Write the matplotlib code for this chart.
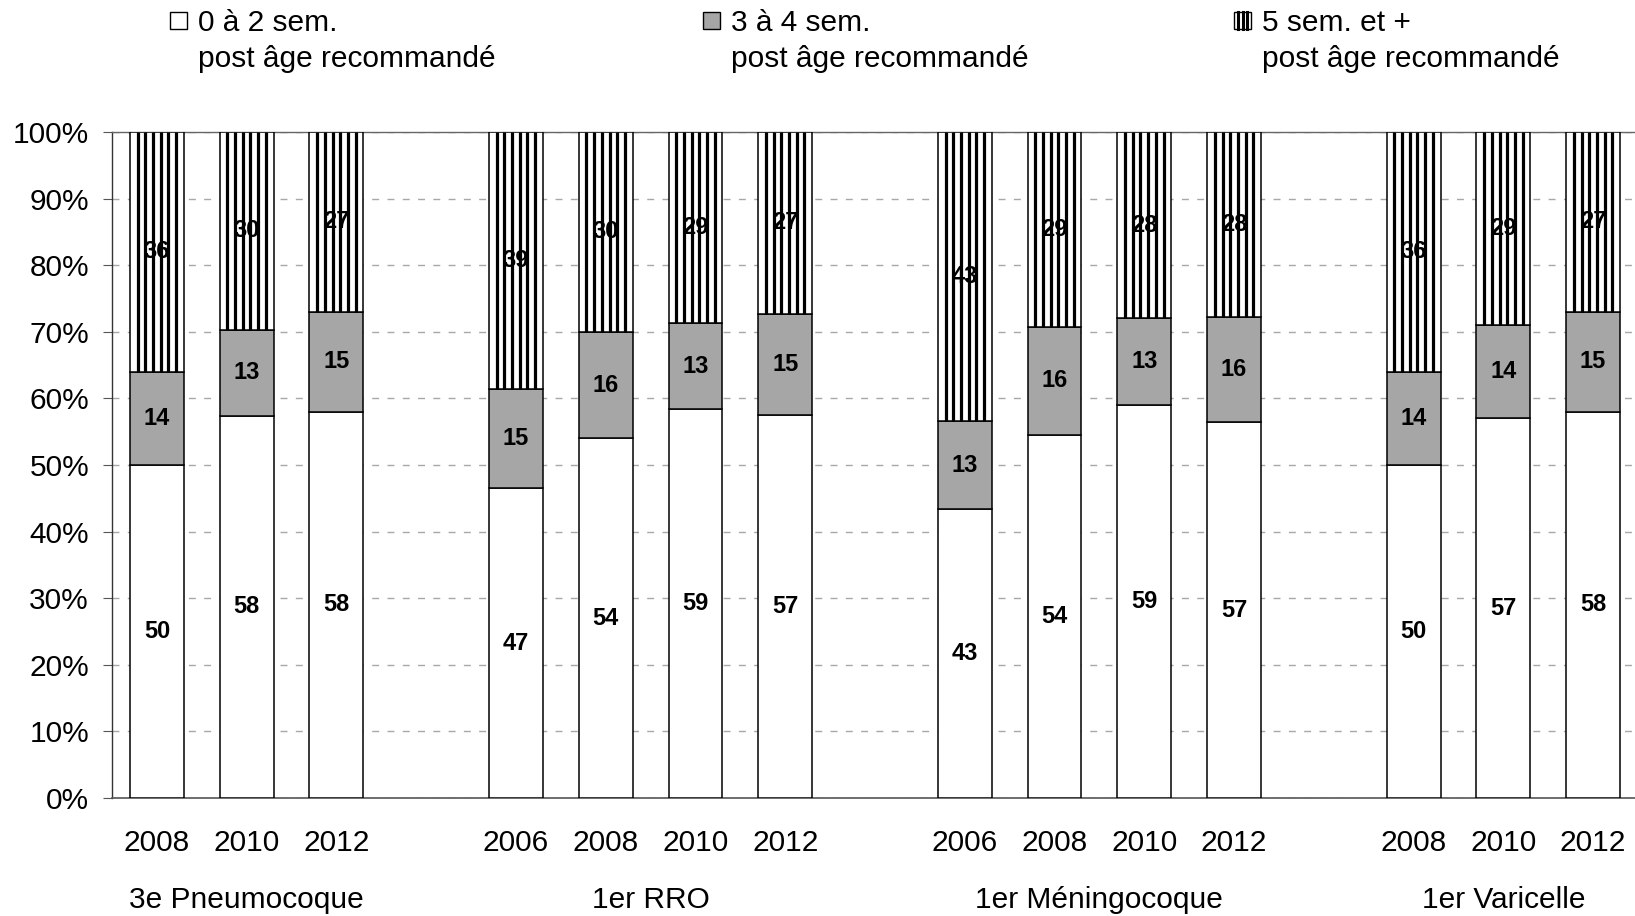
import matplotlib
matplotlib.use("Agg")
import matplotlib.pyplot as plt
import matplotlib.patches as mpatches
import matplotlib.lines as mlines
import matplotlib.transforms as mtransforms
import numpy as np

plt.rcParams['font.family'] = ['Liberation Sans', 'DejaVu Sans']

# groupes de vaccins et annees d'enquete
groups = ["3e Pneumocoque", "1er RRO", "1er Méningocoque", "1er Varicelle"]
group_years = [["2008", "2010", "2012"],
               ["2006", "2008", "2010", "2012"],
               ["2006", "2008", "2010", "2012"],
               ["2008", "2010", "2012"]]

# delai apres l'age recommande (%)
sem_0_2 = [50, 58, 58, 47, 54, 59, 57, 43, 54, 59, 57, 50, 57, 58]
sem_3_4 = [14, 13, 15, 15, 16, 13, 15, 13, 16, 13, 16, 14, 14, 15]
sem_5_plus = [36, 30, 27, 39, 30, 29, 27, 43, 29, 28, 28, 36, 29, 27]

legend_labels = ["0 à 2 sem.", "3 à 4 sem.", "5 sem. et +"]
legend_sub = "post âge recommandé"

FS = 21.5

# positions des barres : une case vide entre chaque groupe
pos = []
centers = []
x = 0
for yrs in group_years:
    start = x
    for _ in yrs:
        pos.append(x)
        x += 1
    centers.append((start + x - 1) / 2)
    x += 1
pos = np.array(pos, dtype=float)
years = [y for yrs in group_years for y in yrs]

a = np.array(sem_0_2, float)
b = np.array(sem_3_4, float)
c = np.array(sem_5_plus, float)
tot = a + b + c
pa, pb, pc = a / tot, b / tot, c / tot

fig = plt.figure(figsize=(16.35, 9.16), dpi=100)
W, H = 1635, 916
ax = fig.add_axes([112 / W, (H - 798) / H, (1638 - 112) / W, 666 / H])

w = 0.6
ax.bar(pos, pa, w, color="white", edgecolor="black", linewidth=1.1, zorder=3)
ax.bar(pos, pb, w, bottom=pa, color="#a6a6a6", edgecolor="black", linewidth=1.1, zorder=3)
ax.bar(pos, pc, w, bottom=pa + pb, color="white", edgecolor="black", linewidth=1.1, zorder=3)

# rayures verticales du segment "5 sem. et +"
n_str = 7
for i in range(len(pos)):
    xs = pos[i] + w * (np.arange(1, n_str) / n_str - 0.5)
    ax.vlines(xs, pa[i] + pb[i], 1, color="black", linewidth=2.3, zorder=3.5)

for i in range(len(pos)):
    for bot, h, v in ((0, pa[i], a[i]), (pa[i], pb[i], b[i]), (pa[i] + pb[i], pc[i], c[i])):
        ax.text(pos[i], bot + h / 2, f"{int(v)}", ha="center", va="center",
                fontsize=17, fontweight="bold", color="black", zorder=5)

ax.set_xlim(-0.5, 16.5)
ax.set_ylim(0, 1)
ticks = np.arange(0, 1.01, 0.1)
ax.set_yticks(ticks)
ax.set_yticklabels([f"{int(round(t * 100))}%" for t in ticks], fontsize=FS)
ax.tick_params(axis="y", length=6.5, width=0.8, pad=10, color="#555555")
ax.set_xticks([])

ax.yaxis.grid(True, color="#a8a8a8", linewidth=1, linestyle=(0, (5, 6)))
ax.set_axisbelow(True)

ax.spines["right"].set_visible(False)
ax.spines["top"].set_color("#666666")
ax.spines["top"].set_linewidth(1)
ax.spines["left"].set_color("#333333")
ax.spines["left"].set_linewidth(1)
ax.spines["bottom"].set_color("#555555")
ax.spines["bottom"].set_linewidth(1.2)

trans = mtransforms.blended_transform_factory(ax.transData, fig.transFigure)
for p, yr in zip(pos, years):
    ax.text(p, 1 - 851 / H, yr, transform=trans, ha="center", va="baseline",
            fontsize=FS, clip_on=False)
for cx, g in zip(centers, groups):
    ax.text(cx, 1 - 908 / H, g, transform=trans, ha="center", va="baseline",
            fontsize=FS, clip_on=False)

# legende en haut, sur une ligne
box_x = [170, 703, 1234]
fills = ["white", "#a6a6a6", "white"]
bs = 17
for k, (bx, lab, fc) in enumerate(zip(box_x, legend_labels, fills)):
    r = mpatches.Rectangle((bx / W, 1 - 29 / H), bs / W, bs / H, transform=fig.transFigure,
                           facecolor=fc, edgecolor="black", linewidth=1)
    fig.patches.append(r)
    if k == 2:
        for f in (0.25, 0.5, 0.75):
            fig.lines.append(mlines.Line2D([(bx + f * bs) / W] * 2,
                                           [1 - 29 / H, 1 - 12 / H],
                                           transform=fig.transFigure,
                                           color="black", linewidth=2.2))
    fig.text((bx + 28) / W, 1 - 31 / H, lab, fontsize=FS, va="baseline", ha="left")
    fig.text((bx + 28) / W, 1 - 67 / H, legend_sub, fontsize=FS, va="baseline", ha="left")

fig.savefig("out.png", dpi=100, facecolor="white")
